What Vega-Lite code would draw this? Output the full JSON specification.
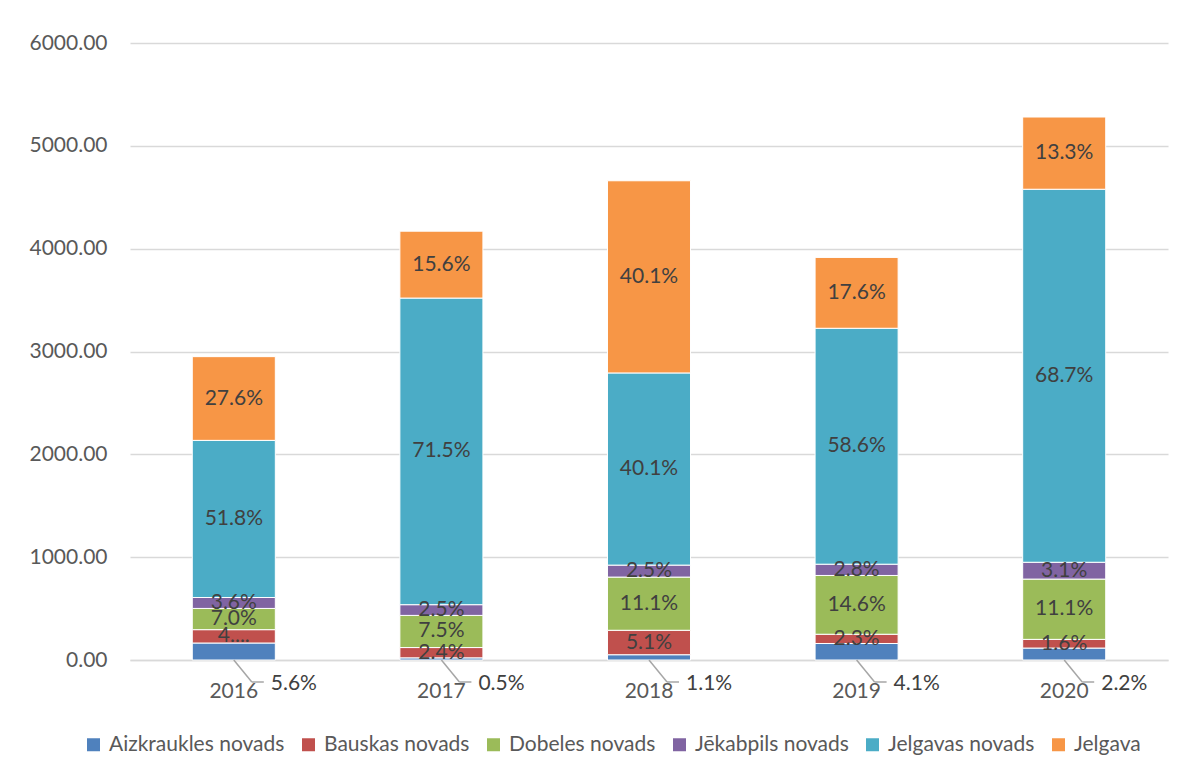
{
  "$schema": "https://vega.github.io/schema/vega-lite/v6.json",
  "width": 1038,
  "height": 617,
  "autosize": "none",
  "padding": {"left": 130, "top": 43, "right": 18, "bottom": 115},
  "background": "white",
  "config": {
    "font": "Lato",
    "view": {"stroke": null}
  },
  "data": {
    "values": [
      {"year": "2016", "region": "Aizkraukles novads", "k": 1, "value": 165.2, "label": "5.6%"},
      {"year": "2016", "region": "Bauskas novads", "k": 2, "value": 129.8, "label": "4...."},
      {"year": "2016", "region": "Dobeles novads", "k": 3, "value": 206.5, "label": "7.0%"},
      {"year": "2016", "region": "Jēkabpils novads", "k": 4, "value": 106.2, "label": "3.6%"},
      {"year": "2016", "region": "Jelgavas novads", "k": 5, "value": 1528.1, "label": "51.8%"},
      {"year": "2016", "region": "Jelgava", "k": 6, "value": 814.2, "label": "27.6%"},
      {"year": "2017", "region": "Aizkraukles novads", "k": 1, "value": 20.9, "label": "0.5%"},
      {"year": "2017", "region": "Bauskas novads", "k": 2, "value": 100.1, "label": "2.4%"},
      {"year": "2017", "region": "Dobeles novads", "k": 3, "value": 312.8, "label": "7.5%"},
      {"year": "2017", "region": "Jēkabpils novads", "k": 4, "value": 104.2, "label": "2.5%"},
      {"year": "2017", "region": "Jelgavas novads", "k": 5, "value": 2981.6, "label": "71.5%"},
      {"year": "2017", "region": "Jelgava", "k": 6, "value": 650.5, "label": "15.6%"},
      {"year": "2018", "region": "Aizkraukles novads", "k": 1, "value": 51.3, "label": "1.1%"},
      {"year": "2018", "region": "Bauskas novads", "k": 2, "value": 237.7, "label": "5.1%"},
      {"year": "2018", "region": "Dobeles novads", "k": 3, "value": 517.3, "label": "11.1%"},
      {"year": "2018", "region": "Jēkabpils novads", "k": 4, "value": 116.5, "label": "2.5%"},
      {"year": "2018", "region": "Jelgavas novads", "k": 5, "value": 1868.7, "label": "40.1%"},
      {"year": "2018", "region": "Jelgava", "k": 6, "value": 1868.7, "label": "40.1%"},
      {"year": "2019", "region": "Aizkraukles novads", "k": 1, "value": 160.5, "label": "4.1%"},
      {"year": "2019", "region": "Bauskas novads", "k": 2, "value": 90.0, "label": "2.3%"},
      {"year": "2019", "region": "Dobeles novads", "k": 3, "value": 571.6, "label": "14.6%"},
      {"year": "2019", "region": "Jēkabpils novads", "k": 4, "value": 109.6, "label": "2.8%"},
      {"year": "2019", "region": "Jelgavas novads", "k": 5, "value": 2294.2, "label": "58.6%"},
      {"year": "2019", "region": "Jelgava", "k": 6, "value": 689.0, "label": "17.6%"},
      {"year": "2020", "region": "Aizkraukles novads", "k": 1, "value": 116.2, "label": "2.2%"},
      {"year": "2020", "region": "Bauskas novads", "k": 2, "value": 84.5, "label": "1.6%"},
      {"year": "2020", "region": "Dobeles novads", "k": 3, "value": 586.1, "label": "11.1%"},
      {"year": "2020", "region": "Jēkabpils novads", "k": 4, "value": 163.7, "label": "3.1%"},
      {"year": "2020", "region": "Jelgavas novads", "k": 5, "value": 3627.4, "label": "68.7%"},
      {"year": "2020", "region": "Jelgava", "k": 6, "value": 702.2, "label": "13.3%"}
    ]
  },
  "transform": [
    {"stack": "value", "groupby": ["year"], "sort": [{"field": "k", "order": "ascending"}], "as": ["y0", "y1"]},
    {"calculate": "(datum.y0 + datum.y1) / 2", "as": "ymid"}
  ],
  "encoding": {
    "x": {
      "field": "year",
      "type": "ordinal",
      "scale": {"paddingInner": 0.6, "paddingOuter": 0.3},
      "axis": {
        "title": null,
        "labelAngle": 0,
        "labelFontSize": 21,
        "labelColor": "#595959",
        "labelPadding": 20,
        "ticks": false,
        "domainColor": "#d9d9d9",
        "domainWidth": 1.5,
        "grid": false
      }
    }
  },
  "layer": [
    {
      "mark": {"type": "bar", "stroke": "white", "strokeWidth": 1},
      "encoding": {
        "y": {
          "field": "y0",
          "type": "quantitative",
          "scale": {"domain": [0, 6000], "nice": false},
          "axis": {
            "title": null,
            "values": [0, 1000, 2000, 3000, 4000, 5000, 6000],
            "format": ".2f",
            "labelFontSize": 21,
            "labelColor": "#595959",
            "labelPadding": 23,
            "ticks": false,
            "domain": false,
            "gridColor": "#d9d9d9",
            "gridWidth": 1.5
          }
        },
        "y2": {"field": "y1"},
        "color": {
          "field": "region",
          "type": "nominal",
          "scale": {
            "domain": ["Aizkraukles novads", "Bauskas novads", "Dobeles novads", "Jēkabpils novads", "Jelgavas novads", "Jelgava"],
            "range": ["#4f81bd", "#c0504d", "#9bbb59", "#8064a2", "#4bacc6", "#f79646"]
          },
          "legend": {
            "title": null,
            "orient": "none",
            "direction": "horizontal",
            "columns": 6,
            "legendX": -47,
            "legendY": 691,
            "symbolType": "square",
            "symbolSize": 169,
            "symbolStrokeWidth": 0,
            "symbolOpacity": 1,
            "labelFontSize": 21,
            "labelLimit": 400,
            "labelColor": "#595959",
            "labelOffset": 5,
            "columnPadding": 13
          }
        }
      }
    },
    {
      "transform": [{"filter": "datum.k > 1"}],
      "mark": {"type": "text", "fontSize": 21, "color": "#404040", "baseline": "middle", "align": "center"},
      "encoding": {
        "y": {"field": "ymid", "type": "quantitative"},
        "text": {"field": "label"}
      }
    },
    {
      "transform": [{"filter": "datum.k == 1"}],
      "mark": {"type": "rule", "color": "#a6a6a6", "strokeWidth": 1.5, "x2Offset": 18, "y2Offset": 22},
      "encoding": {
        "y": {"field": "y0", "type": "quantitative"},
        "x2": {"field": "year"},
        "y2": {"field": "y0"}
      }
    },
    {
      "transform": [{"filter": "datum.k == 1"}],
      "mark": {"type": "rule", "color": "#a6a6a6", "strokeWidth": 1.5, "xOffset": 18, "x2Offset": 30, "yOffset": 22, "y2Offset": 22},
      "encoding": {
        "y": {"field": "y0", "type": "quantitative"},
        "x2": {"field": "year"},
        "y2": {"field": "y0"}
      }
    },
    {
      "transform": [{"filter": "datum.k == 1"}],
      "mark": {"type": "text", "fontSize": 21, "color": "#404040", "baseline": "middle", "align": "left", "xOffset": 37, "yOffset": 24},
      "encoding": {
        "y": {"field": "y0", "type": "quantitative"},
        "text": {"field": "label"}
      }
    }
  ]
}
